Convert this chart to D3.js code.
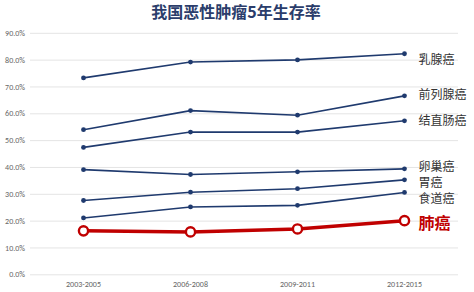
<!DOCTYPE html>
<html>
<head>
<meta charset="utf-8">
<script src="https://cdn.jsdelivr.net/npm/d3@7"></script>
<style>
  body { margin: 0; background: #fff; }
  svg { display: block; font-family: "Noto Sans CJK SC", "Noto Sans", sans-serif; }
</style>
</head>
<body>
<svg id="chart" width="474" height="292"></svg>
<script>
var periods = ["2003-2005", "2006-2008", "2009-2011", "2012-2015"];
var cancers = ["乳腺癌", "前列腺癌", "结直肠癌", "卵巢癌", "胃癌", "食道癌", "肺癌"];
var breast = [0.732, 0.791, 0.799, 0.822];
var prostate = [0.539, 0.610, 0.593, 0.665];
var colorectal = [0.473, 0.530, 0.530, 0.572];
var ovarian = [0.390, 0.372, 0.382, 0.393];
var stomach = [0.275, 0.306, 0.319, 0.352];
var esophageal = [0.210, 0.251, 0.257, 0.305];
var lung = [0.162, 0.158, 0.169, 0.200];
var yTicks = [0, 0.1, 0.2, 0.3, 0.4, 0.5, 0.6, 0.7, 0.8, 0.9];

var series = [breast, prostate, colorectal, ovarian, stomach, esophageal, lung];
// label nudges so names don't collide at the right edge
var labelDy = [6, -1, 0, -2, 3, 6, 3];

var svg = d3.select("#chart");
var navy = "#1f3a6e", red = "#c00000";

var x = d3.scaleBand().domain(periods).range([30, 458]);
var y = d3.scaleLinear().domain([0, 0.9]).range([274.3, 32.8]);
var cx = function(p) { return x(p) + x.bandwidth() / 2; };

svg.append("text")
  .attr("x", 236).attr("y", 18)
  .attr("text-anchor", "middle")
  .style("font-size", "16px").style("font-weight", "bold")
  .style("fill", "#2b3d6b")
  .text("我国恶性肿瘤5年生存率");

// grid + y labels
var yAxis = d3.axisLeft(y).tickValues(yTicks).tickFormat(d3.format(".1%"))
  .tickSize(-(458 - 30)).tickPadding(5);
var ga = svg.append("g").attr("transform", "translate(30,0)").call(yAxis);
ga.select(".domain").remove();
ga.selectAll(".tick line").attr("stroke", "#e4e4e4").attr("stroke-width", 1);
ga.selectAll(".tick text").style("font-size", "8px").style("fill", "#666")
  .style("font-family", "Calibri, Carlito, 'Liberation Sans', sans-serif");

var xAxis = d3.axisBottom(x).tickSize(0).tickPadding(7);
var gx = svg.append("g").attr("transform", "translate(0,274.3)").call(xAxis);
gx.select(".domain").remove();
gx.selectAll(".tick text").style("font-size", "8px").style("fill", "#666")
  .style("font-family", "Calibri, Carlito, 'Liberation Sans', sans-serif");

var line = d3.line().x(function(d, i) { return cx(periods[i]); }).y(function(d) { return y(d); });

series.forEach(function(vals, k) {
  var isLung = k === series.length - 1;
  var g = svg.append("g");
  g.append("path").datum(vals)
    .attr("d", line)
    .attr("fill", "none")
    .attr("stroke", isLung ? red : navy)
    .attr("stroke-width", isLung ? 3.5 : 1.6);
  g.selectAll("circle").data(vals).enter().append("circle")
    .attr("cx", function(d, i) { return cx(periods[i]); })
    .attr("cy", function(d) { return y(d); })
    .attr("r", isLung ? 4.6 : 2.4)
    .attr("fill", isLung ? "#fff" : navy)
    .attr("stroke", isLung ? red : navy)
    .attr("stroke-width", isLung ? 2.4 : 0);
  g.append("text")
    .attr("x", cx(periods[3]) + 14)
    .attr("y", y(vals[3]) + labelDy[k])
    .attr("dy", "0.36em")
    .style("font-size", isLung ? "16px" : "12px")
    .style("font-weight", isLung ? "bold" : "normal")
    .style("fill", isLung ? red : "#333")
    .text(cancers[k]);
});
</script>
</body>
</html>
